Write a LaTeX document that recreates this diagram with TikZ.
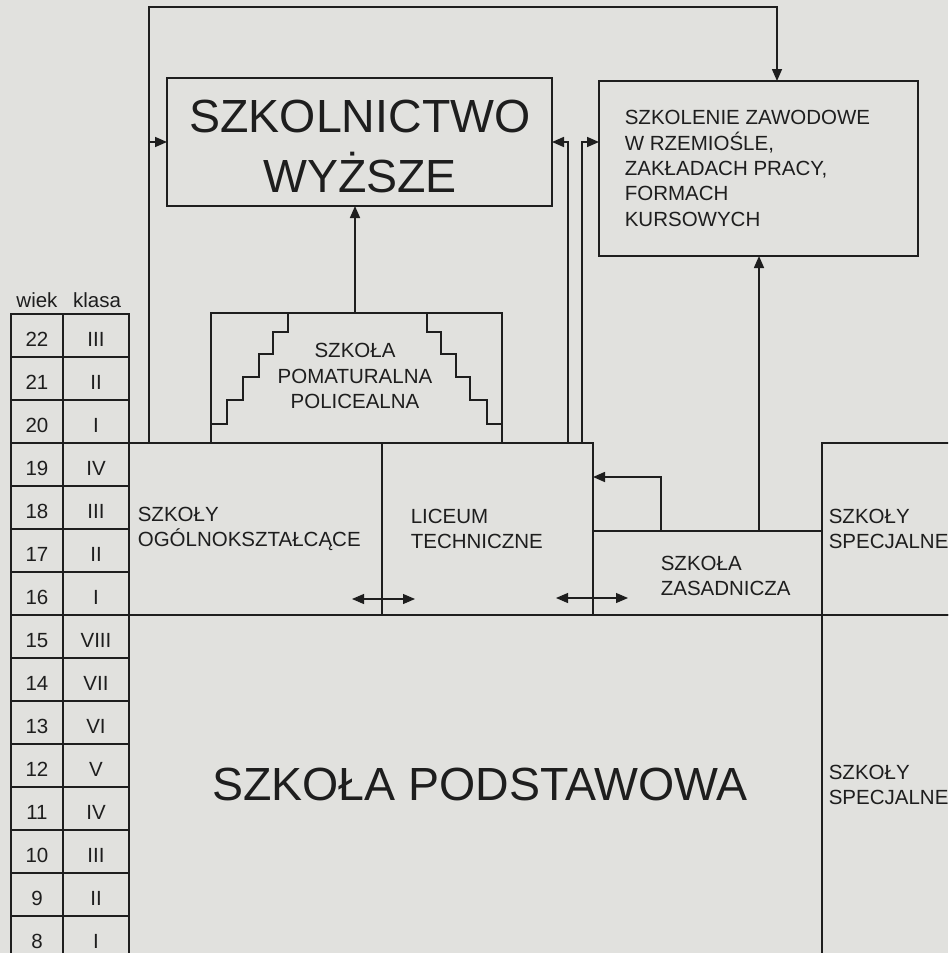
\documentclass[tikz,border=0pt]{standalone}
\usepackage{fontspec}
\setmainfont{Liberation Sans}
\usetikzlibrary{arrows.meta,positioning}

\definecolor{paper}{RGB}{225,225,222}
\definecolor{ink}{RGB}{30,30,30}

\begin{document}
\begin{tikzpicture}[
    x = 1pt,
    y = -1pt,
    >={Triangle[length=12pt,width=10pt]},
    line width=1.6pt,
    draw=ink,
    region/.style = {draw=ink, rectangle, inner sep=0pt, outer sep=0pt},
    schoolname/.style = {font=\fontsize{20.5}{25.3}\selectfont, align=left,
    inner sep=0pt, text=ink},
    bigname/.style = {font=\fontsize{46.5}{60}\selectfont, align=center,
    inner sep=0pt, text=ink},
    cell/.style = {region, font=\fontsize{20.5}{24}\selectfont, minimum height=43pt,
    text height=21pt, text depth=0pt, text=ink},
]

\useasboundingbox (0,0) rectangle (948,953);
\fill[paper] (0,0) rectangle (948,953);
\clip (0,0) rectangle (948,953);

% age / class table
\node[cell, anchor=base, draw=none, text height=, text depth=] (wiekHead) at (37,307) {wiek};
\node[cell, anchor=base, draw=none, text height=, text depth=] (klasaHead) at (97,307) {klasa};
\foreach \age/\cls [count=\i from 0] in {22/III,21/II,20/I,19/IV,18/III,17/II,16/I,
    15/VIII,14/VII,13/VI,12/V,11/IV,10/III,9/II,8/I}{
  \node[cell, minimum width=52pt] (age\i) at (37,335.5+43*\i) {\age};
  \node[cell, minimum width=66pt] (cls\i) at (96,335.5+43*\i) {\cls};
}

% higher level
\node[region, minimum width=385pt, minimum height=128pt] (wyzsze) at (359.5,142) {};
\node[bigname] (wyzszeText) at (360,146.5) {SZKOLNICTWO\\WYŻSZE};
\node[region, minimum width=319pt, minimum height=175pt] (szkolenie) at (758.5,168.5) {};
\node[schoolname, right=25pt of szkolenie.west] (szkolenieText)
  {SZKOLENIE ZAWODOWE\\W RZEMIOŚLE,\\ZAKŁADACH PRACY,\\FORMACH\\KURSOWYCH};

\node[region, minimum width=291pt, minimum height=130pt] (pomat) at (356.5,378) {};
\node[schoolname, align=center] (pomatText) at (355,376) {SZKOŁA\\POMATURALNA\\POLICEALNA};
\draw (288,313) -- ++(0,19) -- ++(-15,0) -- ++(0,22) -- ++(-14,0) -- ++(0,23)
  -- ++(-16,0) -- ++(0,23) -- ++(-16,0) -- ++(0,24) -- (pomat.west |- 0,424);
\draw (427,313) -- ++(0,19) -- ++(14,0) -- ++(0,22) -- ++(15,0) -- ++(0,23)
  -- ++(14,0) -- ++(0,23) -- ++(17,0) -- ++(0,24) -- (pomat.east |- 0,424);

% secondary level
\node[region, minimum width=253pt, minimum height=172pt] (ogol) at (255.5,529) {};
\node[region, minimum width=211pt, minimum height=172pt] (liceum) at (487.5,529) {};
\node[region, minimum width=229pt, minimum height=84pt] (zasad) at (707.5,573) {};
\node[region, minimum width=148pt, minimum height=172pt] (specTop) at (896,529) {};
\node[schoolname, right=8pt of ogol.west] (ogolText) {SZKOŁY\\OGÓLNOKSZTAŁCĄCE};
\node[schoolname, right=28pt of liceum.west] (liceumText) {LICEUM\\TECHNICZNE};
\node[schoolname, right=67pt of zasad.west, yshift=-3pt] (zasadText) {SZKOŁA\\ZASADNICZA};
\node[schoolname, right=6pt of specTop.west] (specTopText) {SZKOŁY\\SPECJALNE};

% primary level
\node[region, minimum width=693pt, minimum height=340pt] (podst) at (475.5,785) {};
\node[region, minimum width=148pt, minimum height=340pt] (specLow) at (896,785) {};
\node[bigname] (podstText) at (480,784) {SZKOŁA PODSTAWOWA};
\node[schoolname, right=6pt of specLow.west] (specLowText) {SZKOŁY\\SPECJALNE};

% connections
\coordinate (frameBase) at (149,443);
\coordinate (frameTop) at (777,7);
\coordinate (upL) at (568,443);
\coordinate (upR) at (582,443);
\coordinate (zasadUp) at (661,531);
\draw[->] (frameBase) |- (frameTop) -- (frameTop |- szkolenie.north);
\draw[->] (frameBase |- wyzsze.west) -- (wyzsze.west);
\draw[->] ([xshift=-1.5pt]pomat.north) -- ([xshift=-1.5pt]pomat.north |- wyzsze.south);
\draw[->] (upL) |- (wyzsze.east);
\draw[->] (upR) |- (szkolenie.west |- wyzsze.east);
\draw[->] ([xshift=0.5pt]szkolenie.south |- zasad.north) -- ([xshift=0.5pt]szkolenie.south);
\draw[->] (zasadUp) |- ([yshift=52pt]liceum.east);
\draw[<->, line width=1.1pt] ([xshift=-30pt,yshift=16pt]ogol.south east)
  -- ([xshift=33pt,yshift=16pt]ogol.south east);
\draw[<->, line width=1.1pt] ([xshift=-37pt,yshift=17pt]liceum.south east)
  -- ([xshift=35pt,yshift=17pt]liceum.south east);

\end{tikzpicture}
\end{document}
